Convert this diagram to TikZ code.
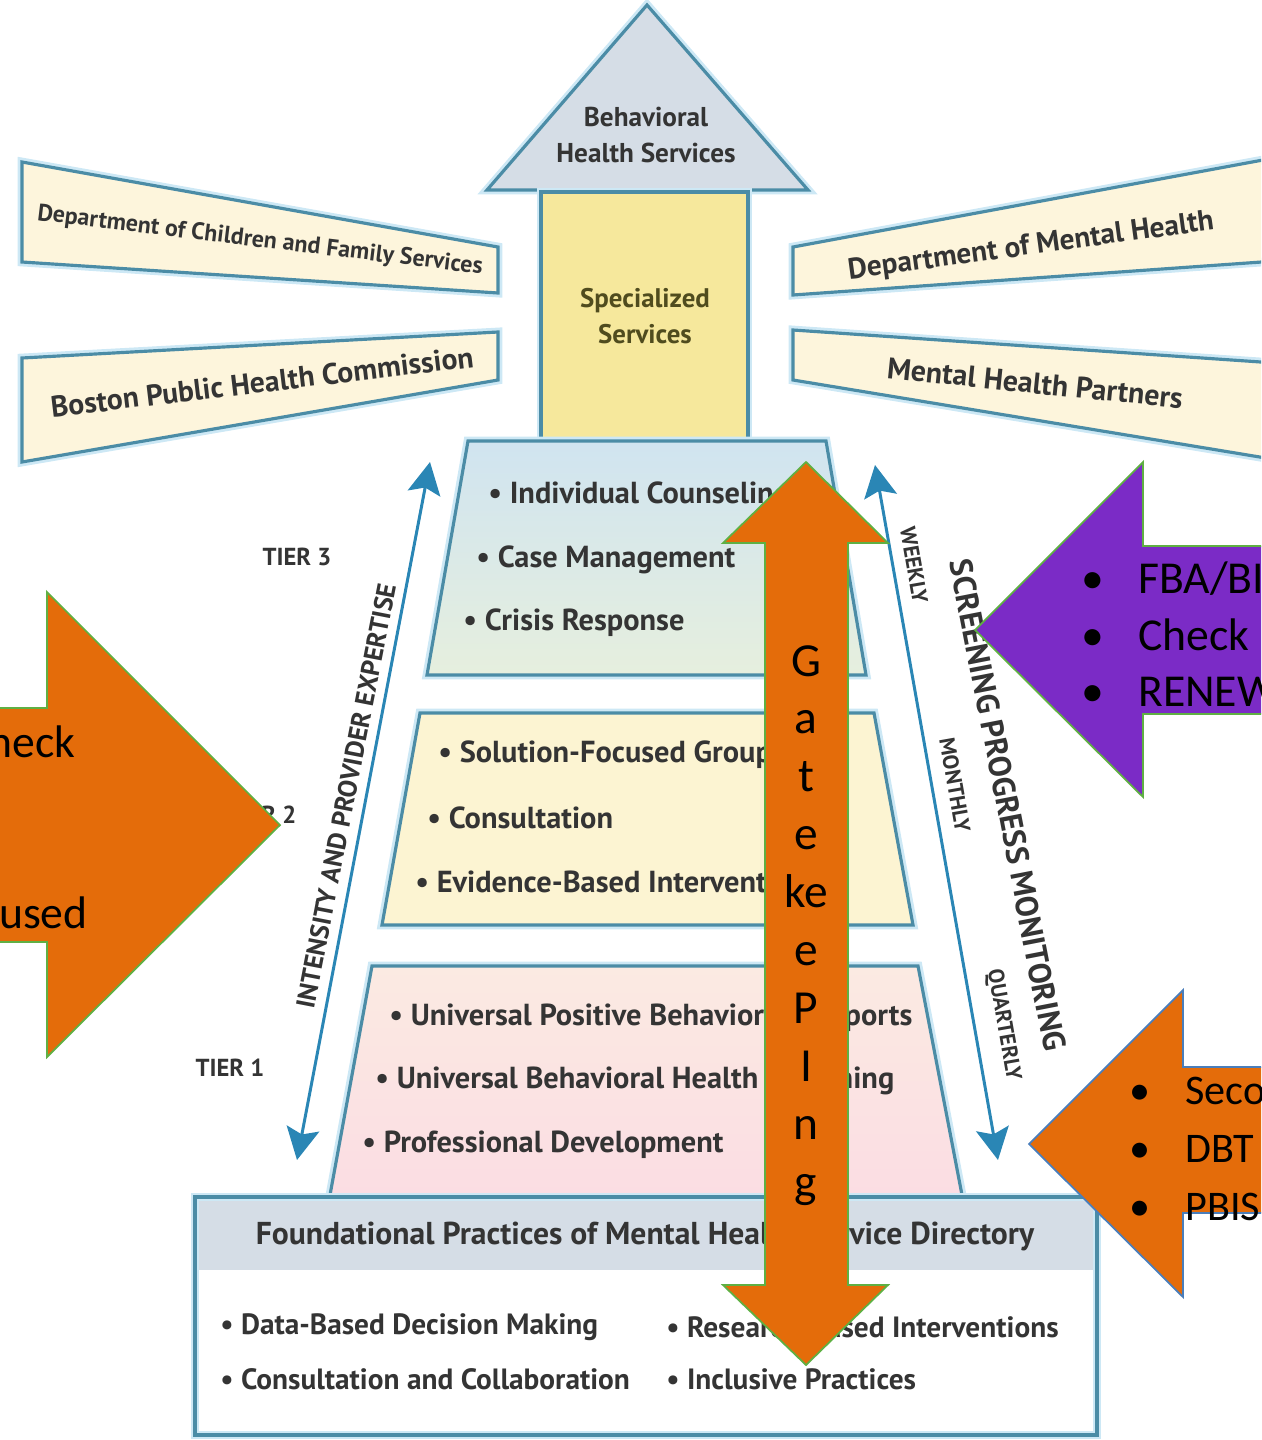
\documentclass[tikz,border=0pt]{standalone}
\usepackage{fontspec}
\setmainfont{PT Sans}
\newfontfamily\slidefont{Carlito}
\usetikzlibrary{arrows.meta}

\definecolor{rim}{RGB}{75,140,166}
\definecolor{glow}{RGB}{205,232,245}
\definecolor{flowblue}{RGB}{42,134,181}
\definecolor{cream}{RGB}{253,245,220}
\definecolor{roofgray}{RGB}{213,221,230}
\definecolor{pillar}{RGB}{246,232,156}
\definecolor{ink}{RGB}{52,52,52}
\definecolor{olive}{RGB}{80,76,30}
\definecolor{gateorange}{RGB}{228,108,10}
\definecolor{calloutpurple}{RGB}{123,43,198}
\definecolor{leafgreen}{RGB}{95,176,67}
\definecolor{edgeblue}{RGB}{74,126,187}

\tikzset{
  panel/.style={draw=rim, line width=1.8pt, line join=miter,
    preaction={draw=glow, line width=5pt}},
  banner/.style={panel, fill=cream},
  bannertext/.style={text=ink, inner sep=0pt},
  tiertext/.style={anchor=west, text=ink, inner sep=0pt, font=\bfseries\fontsize{17.3}{19}\selectfont},
  basetext/.style={anchor=west, text=ink, inner sep=0pt, font=\bfseries\fontsize{16.7}{18}\selectfont},
  tierlabel/.style={text=ink, inner sep=0pt, font=\bfseries\fontsize{14}{16}\selectfont},
  flow/.style={draw=flowblue, line width=1.7pt,
    {Stealth[length=0.64cm, width=0.66cm, inset=0.12cm]}-{Stealth[length=0.64cm, width=0.66cm, inset=0.12cm]}},
  flowtext/.style={text=ink, inner sep=0pt},
  callout/.style={fill=gateorange, draw=leafgreen, line width=1pt, line join=miter},
  slidetext/.style={inner sep=0pt, text=black, font=\slidefont\fontsize{26}{30}\selectfont},
}

\begin{document}
\begin{tikzpicture}[x=0.02cm, y=-0.02cm]
\useasboundingbox (0,0) rectangle (1261,1440);
\clip (0,0) rectangle (1261,1440);

% partner banners
\draw[banner] (22,162) -- (498,247) -- (498,293) -- (22,262) -- cycle;
\node[bannertext, rotate=-6.9, font=\bfseries\fontsize{13.6}{15}\selectfont] (dcfs) at (260,241) {Department of Children and Family Services};
\draw[banner] (22,358) -- (498,332) -- (498,380) -- (22,462) -- cycle;
\node[bannertext, rotate=6.8, font=\bfseries\fontsize{16.9}{19}\selectfont] (bphc) at (262,382) {Boston Public Health Commission};
\draw[banner] (793,247) -- (1290,155) -- (1290,260) -- (793,295) -- cycle;
\node[bannertext, rotate=7.8, font=\bfseries\fontsize{16.7}{19}\selectfont] (dmh) at (1031,247) {Department of Mental Health};
\draw[banner] (793,330) -- (1290,364) -- (1290,462) -- (793,380) -- cycle;
\node[bannertext, rotate=-5.8, font=\bfseries\fontsize{17}{19}\selectfont] (mhp) at (1035,383) {Mental Health Partners};

% house
\draw[panel, fill=roofgray] (647,5) -- (808,190) -- (487,190) -- cycle;
\node[bannertext, align=center, font=\bfseries\fontsize{15.5}{20.4}\selectfont] (roof) at (646,135) {Behavioral\\Health Services};
\draw[panel, fill=pillar] (541,192) rectangle (748,440);
\node[bannertext, text=olive, align=center, font=\bfseries\fontsize{15.3}{20.4}\selectfont] (special) at (645,316) {Specialized\\Services};

% tiers
\draw[panel, top color={rgb,255:red,208;green,228;blue,240}, bottom color={rgb,255:red,230;green,239;blue,222}]
  (468,441) -- (826,441) -- (866,675) -- (427,675) -- cycle;
\draw[panel, fill={rgb,255:red,252;green,244;blue,210}]
  (420,713) -- (874,713) -- (913,925) -- (382,925) -- cycle;
\draw[panel, top color={rgb,255:red,251;green,234;blue,226}, bottom color={rgb,255:red,251;green,221;blue,227}]
  (372,966) -- (918,966) -- (962,1195) -- (330,1195) -- cycle;

\node[tiertext] (t3a) at (488,496) {\textbullet\ Individual Counseling};
\node[tiertext] (t3b) at (476,560) {\textbullet\ Case Management};
\node[tiertext] (t3c) at (463,623) {\textbullet\ Crisis Response};
\node[tiertext] (t2a) at (438,755) {\textbullet\ Solution-Focused Groups};
\node[tiertext] (t2b) at (427,818) {\textbullet\ Consultation};
\node[tiertext] (t2c) at (415,882) {\textbullet\ Evidence-Based Interventions};
\node[tiertext] (t1a) at (389,1018) {\textbullet\ Universal Positive Behavioral Supports};
\node[tiertext] (t1b) at (375,1081) {\textbullet\ Universal Behavioral Health Screening};
\node[tiertext] (t1c) at (362,1145) {\textbullet\ Professional Development};

\node[tierlabel] (tier3) at (297,557) {TIER 3};
\node[tierlabel] (tier2) at (262,815) {TIER 2};
\node[tierlabel] (tier1) at (230,1068) {TIER 1};

% foundation
\fill[roofgray] (195,1197) rectangle (1097,1270);
\draw[panel] (195,1197) rectangle (1097,1435);
\node[bannertext, font=\bfseries\fontsize{18}{20}\selectfont] (base) at (645,1236) {Foundational Practices of Mental Health Service Directory};
\node[basetext] (fa) at (220,1327) {\textbullet\ Data-Based Decision Making};
\node[basetext] (fb) at (220,1379) {\textbullet\ Consultation and Collaboration};
\node[basetext] (fc) at (666,1327) {\textbullet\ Research-Based Interventions};
\node[basetext] (fd) at (666,1379) {\textbullet\ Inclusive Practices};

% intensity and monitoring arrows
\coordinate (lowL) at (297,1160);
\coordinate (topL) at (430,462);
\coordinate (topR) at (875,465);
\coordinate (lowR) at (998,1160);
\draw[flow] (lowL) -- (topL);
\draw[flow] (topR) -- (lowR);
\node[flowtext, rotate=79, font=\bfseries\fontsize{15}{17}\selectfont] (intensity) at (346,796) {INTENSITY AND PROVIDER EXPERTISE};
\node[flowtext, rotate=-79, font=\bfseries\fontsize{18}{20}\selectfont] (screen) at (1008,805) {SCREENING PROGRESS MONITORING};
\node[flowtext, rotate=-80, font=\bfseries\fontsize{12.5}{14}\selectfont] (weekly) at (914,565) {WEEKLY};
\node[flowtext, rotate=-80, font=\bfseries\fontsize{12.5}{14}\selectfont] (monthly) at (955,785) {MONTHLY};
\node[flowtext, rotate=-80, font=\bfseries\fontsize{12.5}{14}\selectfont] (quarterly) at (1003,1025) {QUARTERLY};

% callout arrows
\draw[callout] (-20,708) -- (47,708) -- (47,592) -- (280,825) -- (47,1057) -- (47,942) -- (-20,942) -- cycle;
\node[slidetext, anchor=base east] (lcheck) at (76,757) {Check};
\node[slidetext, anchor=base east] (lfocus) at (88,928) {Focused};

\draw[callout, fill=calloutpurple] (975,630) -- (1143,462) -- (1143,546) -- (1290,546) -- (1290,714) -- (1143,714) -- (1143,797) -- cycle;
\node[slidetext, anchor=base] at (1093,593) {\textbullet};
\node[slidetext, anchor=base west] (fba) at (1138,593) {FBA/BIP};
\node[slidetext, anchor=base] at (1093,650) {\textbullet};
\node[slidetext, anchor=base west] (cico) at (1138,650) {Check};
\node[slidetext, anchor=base] at (1093,706) {\textbullet};
\node[slidetext, anchor=base west] (renew) at (1138,706) {RENEW};

\draw[callout, draw=edgeblue] (1029,1144) -- (1183,990) -- (1183,1067) -- (1290,1067) -- (1290,1213) -- (1183,1213) -- (1183,1297) -- cycle;
\foreach \y/\t in {1104/Second Step,1162/DBT,1220/PBIS} {
  \node[slidetext, font=\slidefont\fontsize{24}{28}\selectfont, anchor=base] at (1140,\y) {\textbullet};
  \node[slidetext, font=\slidefont\fontsize{24}{28}\selectfont, anchor=base west] at (1185,\y) {\t};
}

% gatekeeping arrow
\draw[callout] (806,462) -- (888,543) -- (848,543) -- (848,1285) -- (888,1285) -- (806,1365)
  -- (723,1285) -- (765,1285) -- (765,543) -- (723,543) -- cycle;
\foreach \ch [count=\i from 0] in {G,a,t,e,ke,e,P,I,n,g}
  \node[slidetext, font=\slidefont\fontsize{27}{30}\selectfont, anchor=base] at (806,676+57.9*\i) {\ch};
\end{tikzpicture}
\end{document}
